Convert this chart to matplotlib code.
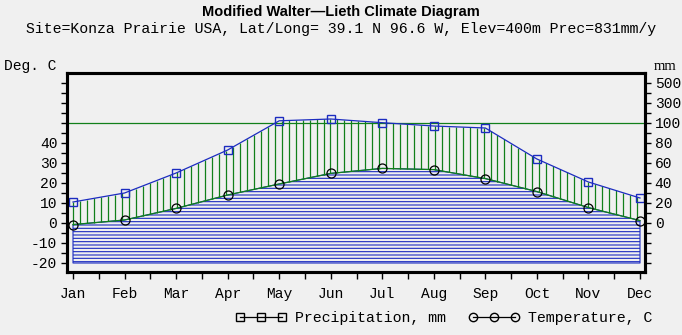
import numpy as np
import matplotlib
matplotlib.use("Agg")
from matplotlib import pyplot as plt
from matplotlib.lines import Line2D

# monthly climate values
months = ['Jan', 'Feb', 'Mar', 'Apr', 'May', 'Jun',
          'Jul', 'Aug', 'Sep', 'Oct', 'Nov', 'Dec']
precip_mm = [21, 30, 50, 73, 122, 140, 103, 97, 95, 64, 41, 25]
temp_c = [-0.8, 1.5, 7.3, 14.0, 19.5, 24.8, 27.3, 26.7, 22.2, 15.7, 7.7, 1.2]

left_ticks = [-20, -10, 0, 10, 20, 30, 40]
right_ticks = [0, 10, 20, 30, 40, 50, 60, 70]
right_labels = ['0', '20', '40', '60', '80', '100', '300', '500']

BG = '#f0f0f0'
BLUE = '#1c2cc0'
GREEN = '#11801a'
MONO = ['Liberation Mono', 'DejaVu Sans Mono']


def precip_to_axis(p):
    """Walter-Lieth scale: 20 mm = 10 C below 100 mm, compressed above."""
    p = np.asarray(p, dtype=float)
    return np.where(p <= 100, p / 2.0, 50 + (p - 100) / 20.0)


x = np.arange(1, len(months) + 1)
p_ax = precip_to_axis(precip_mm)
t_ax = np.asarray(temp_c)

fig = plt.figure(figsize=(6.82, 3.35), dpi=100, facecolor=BG)
ax = fig.add_axes([67 / 682, 1 - 272 / 335, 578 / 682, 199 / 335])
ax.set_facecolor(BG)
ax.set_xlim(1 - 6 / 51.5, 12 + 5 / 51.5)
ax.set_ylim(-24.5, 75)

plt.rcParams['hatch.linewidth'] = 0.8

# cold part: blue horizontal hatching from -20 up to temperature
ax.fill_between(x, -20, t_ax, facecolor='none', edgecolor=BLUE,
                hatch='-----', linewidth=0.8, zorder=1)

# humid part: green vertical lines between temperature and precipitation
xs = np.arange(1, 12.0001, 0.135)
ax.vlines(xs, np.interp(xs, x, t_ax), np.interp(xs, x, p_ax),
          color=GREEN, linewidth=0.9, zorder=2)

ax.axhline(50, color=GREEN, linewidth=0.9, zorder=2)

ax.plot(x, t_ax, color=GREEN, linewidth=0.9, zorder=3)
ax.plot(x, p_ax, color=BLUE, linewidth=0.9, zorder=3)
ax.plot(x, p_ax, linestyle='none', marker='s', markersize=6,
        mfc='none', mec=BLUE, mew=1.0, zorder=4)
ax.plot(x, t_ax, linestyle='none', marker='o', markersize=6.5,
        mfc='none', mec='black', mew=0.9, zorder=4)

# axes styling
for s in ax.spines.values():
    s.set_linewidth(2.2)
ax.set_xticks(x)
ax.set_xticklabels(months, fontfamily=MONO, fontsize=10.5)
ax.set_xticks(np.arange(1.5, 12, 1.0), minor=True)
ax.set_yticks(left_ticks)
ax.set_yticklabels([str(v) for v in left_ticks], fontfamily=MONO, fontsize=10.5)
ax.set_yticks(np.arange(-20, 71, 5), minor=True)
ax.tick_params(which='both', direction='out', length=4, width=1,
               colors='black', pad=3)
ax.tick_params(axis='x', which='both', length=5, pad=6)

ax2 = ax.twinx()
ax2.set_ylim(ax.get_ylim())
ax2.set_yticks(right_ticks)
ax2.set_yticklabels(right_labels, fontfamily=MONO, fontsize=10.5)
ax2.set_yticks(np.arange(-20, 71, 5), minor=True)
ax2.tick_params(which='both', direction='out', length=4, width=1, pad=3)
for s in ax2.spines.values():
    s.set_linewidth(2.2)

# titles and axis captions
fig.text(0.5, 1 - 12 / 335, 'Modified Walter\u2014Lieth Climate Diagram',
         ha='center', va='center', fontsize=10.5, fontweight='bold',
         family=['Liberation Sans', 'DejaVu Sans'])
fig.text(0.5, 1 - 29 / 335,
         'Site=Konza Prairie USA, Lat/Long= 39.1 N 96.6 W, Elev=400m Prec=831mm/y',
         ha='center', va='center', fontsize=10.75, family=MONO)
fig.text(4 / 682, 1 - 66 / 335, 'Deg. C', ha='left', va='center',
         fontsize=10.5, family=MONO)
fig.text(654 / 682, 1 - 66 / 335, 'mm', ha='left', va='center',
         fontsize=10.5, family=['Liberation Serif', 'DejaVu Serif'])

# legend
handles = [Line2D([], [], color='black', linewidth=0.9, marker='s',
                  markersize=6, mfc='none', mec='black'),
           Line2D([], [], color='black', linewidth=0.9, marker='o',
                  markersize=6, mfc='none', mec='black')]
fig.legend(handles, ['Precipitation, mm', 'Temperature, C'], ncol=2,
           loc='center', bbox_to_anchor=(444 / 682, 1 - 318 / 335),
           frameon=False, numpoints=3, handlelength=3.4, handletextpad=0.6,
           columnspacing=1.5, prop={'family': MONO, 'size': 10.75})

fig.savefig('out.png', dpi=100, facecolor=BG)
